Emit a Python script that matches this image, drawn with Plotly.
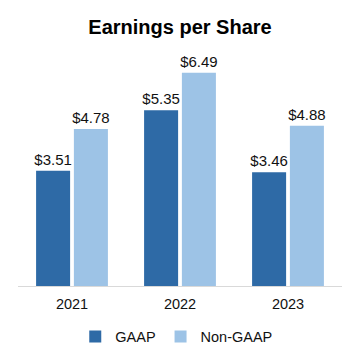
import plotly.graph_objects as go

years = ["2021", "2022", "2023"]
gaap = [3.51, 5.35, 3.46]
non_gaap = [4.78, 6.49, 4.88]
gaap_labels = ["$3.51", "$5.35", "$3.46"]
non_gaap_labels = ["$4.78", "$6.49", "$4.88"]

FONT = "Liberation Sans, Arial, sans-serif"

fig = go.Figure()
fig.add_trace(go.Bar(
    name="GAAP", x=years, y=gaap, text=gaap_labels,
    textposition="outside", cliponaxis=False, constraintext="none",
    marker=dict(color="#2E6AA6", line=dict(width=0)),
    textfont=dict(size=15, color="#111111", family=FONT),
))
fig.add_trace(go.Bar(
    name="Non-GAAP", x=years, y=non_gaap, text=non_gaap_labels,
    textposition="outside", cliponaxis=False, constraintext="none",
    marker=dict(color="#9DC3E6", line=dict(width=0)),
    textfont=dict(size=15, color="#111111", family=FONT),
))

# page body has an 8px margin; figure is sized 352 so it ends at the window edge
fig.update_layout(
    width=352, height=352,
    margin=dict(l=10, r=18, t=48, b=74, autoexpand=False),
    paper_bgcolor="white", plot_bgcolor="white",
    font=dict(family=FONT, size=14, color="#111111"),
    title=dict(text="<b>Earnings per Share</b>", x=(180 - 8) / 352, xanchor="center",
               y=1 - 19 / 352, yanchor="middle", yref="container",
               font=dict(size=20, color="#000000", family=FONT)),
    barmode="group", bargap=0.3, bargroupgap=0.1,
    showlegend=True,
    legend=dict(orientation="h", x=0.49, xanchor="center", y=-0.22,
                yanchor="middle", font=dict(size=14.5, color="#111111"),
                itemwidth=30, tracegroupgap=0),
    xaxis=dict(showline=True, linecolor="#D9D9D9", linewidth=1, automargin=False,
               ticks="", showgrid=False, tickfont=dict(size=14.5),
               ticklabelstandoff=5),
    yaxis=dict(range=[0, 7], visible=False, showgrid=False, zeroline=False,
               automargin=False),
)

fig.write_html("out.html")
